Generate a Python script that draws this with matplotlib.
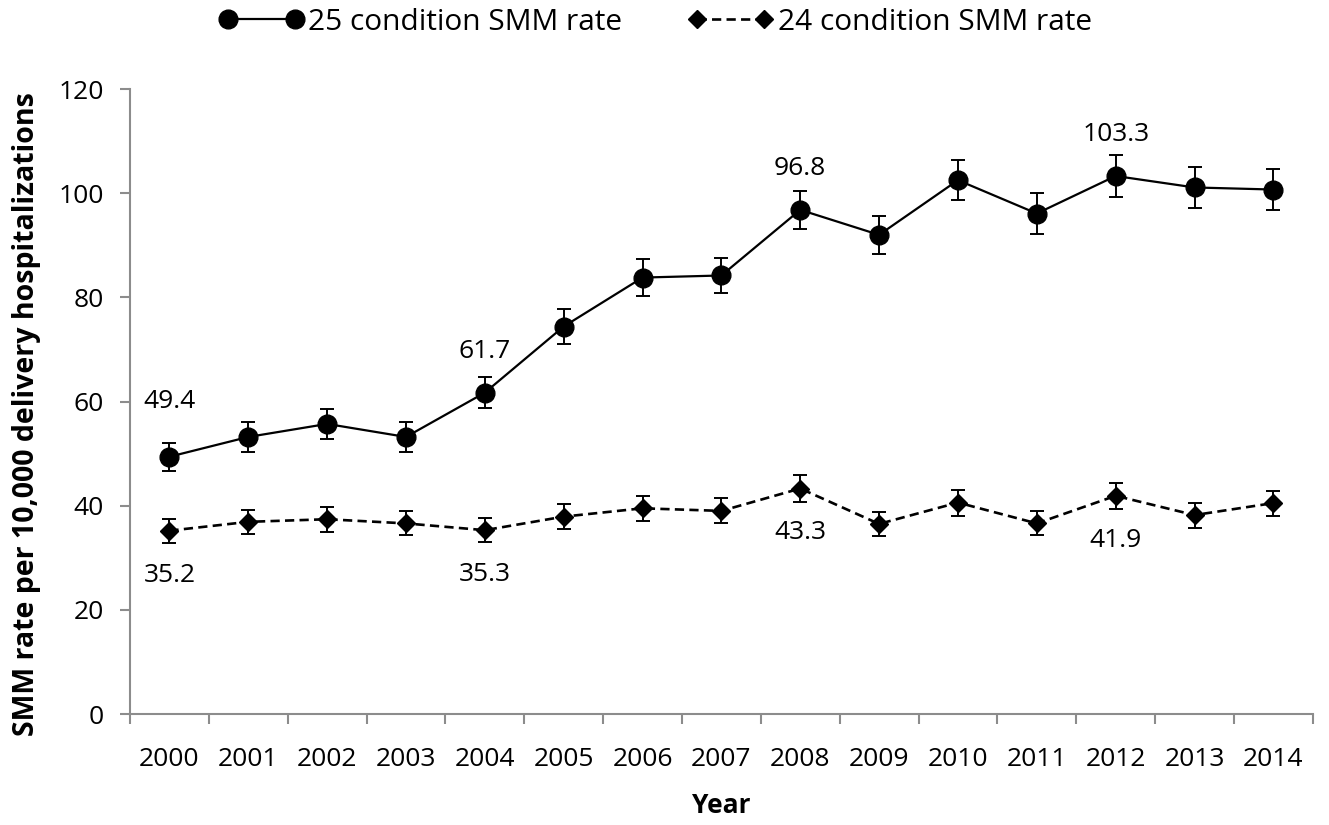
import numpy as np
import matplotlib
matplotlib.use('Agg')
import matplotlib.pyplot as plt
from matplotlib.ticker import FixedLocator, NullFormatter

plt.rcParams['font.family'] = ['Open Sans', 'DejaVu Sans']

years = ['2000', '2001', '2002', '2003', '2004', '2005', '2006', '2007',
         '2008', '2009', '2010', '2011', '2012', '2013', '2014']

# 25 condition SMM rate and 95% CI half-widths
smm25 = [49.4, 53.2, 55.7, 53.2, 61.7, 74.4, 83.8, 84.2,
         96.8, 92.0, 102.5, 96.1, 103.3, 101.1, 100.7]
err25 = [2.7, 2.8, 2.9, 2.8, 3.0, 3.3, 3.5, 3.4,
         3.7, 3.7, 3.8, 3.9, 4.0, 4.0, 4.0]

# 24 condition SMM rate
smm24 = [35.2, 36.9, 37.4, 36.6, 35.3, 37.9, 39.5, 39.0,
         43.3, 36.5, 40.6, 36.6, 41.9, 38.2, 40.5]
err24 = [2.3, 2.3, 2.4, 2.3, 2.3, 2.4, 2.4, 2.4,
         2.5, 2.3, 2.5, 2.3, 2.55, 2.4, 2.4]

labelled = [0, 4, 8, 12]

fig = plt.figure(figsize=(13.29, 8.25), dpi=100)
ax = fig.add_axes([0.0978, 0.1345, 0.890, 0.7576])

x = np.arange(len(years))
eb1 = ax.errorbar(x, smm25, yerr=err25, color='black', lw=1.6, marker='o', ms=13.5,
                  capsize=5, elinewidth=1.4, capthick=1.4, label='25 condition SMM rate')
eb2 = ax.errorbar(x, smm24, yerr=err24, color='black', lw=1.9, ls=(0, (3.5, 2)), marker='D',
                  ms=9, capsize=5, elinewidth=1.4, capthick=1.4, label='24 condition SMM rate')

# data labels
for i in labelled:
    up = 40 if i == 0 else 30
    ax.annotate(f'{smm25[i]:.1f}', (x[i], smm25[i]), xytext=(0, up), textcoords='offset points',
                ha='center', va='center', fontsize=19)
    ax.annotate(f'{smm24[i]:.1f}', (x[i], smm24[i]), xytext=(0, -32), textcoords='offset points',
                ha='center', va='center', fontsize=19)

ax.set_xlim(-0.5, len(years) - 0.5)
ax.set_ylim(0, 120)
ax.set_yticks(np.arange(0, 121, 20))
ax.set_xticks(x)
ax.set_xticklabels(years)
ax.xaxis.set_minor_locator(FixedLocator(np.arange(-0.5, len(years), 1)))
ax.xaxis.set_minor_formatter(NullFormatter())

# remove borders and ticks like excel
for s in ['top', 'right']:
    ax.spines[s].set_visible(False)
for s in ['left', 'bottom']:
    ax.spines[s].set_color('#8c8c8c')
    ax.spines[s].set_linewidth(1.5)
ax.tick_params(axis='x', which='major', length=0, pad=24, labelsize=19)
ax.tick_params(axis='x', which='minor', length=7, width=1.5, color='#8c8c8c')
ax.tick_params(axis='y', length=7, width=1.5, color='#8c8c8c', pad=12, labelsize=19)

ax.set_xlabel('Year', fontsize=19, fontweight='bold', labelpad=14)
ax.set_ylabel('SMM rate per 10,000 delivery hospitalizations', fontsize=20.5,
              fontweight='bold')
ax.yaxis.set_label_coords(-0.075, 0.48)

leg = fig.legend(handles=[eb1.lines[0], eb2.lines[0]],
                 labels=['25 condition SMM rate', '24 condition SMM rate'],
                 loc='center', bbox_to_anchor=(0.493, 0.973), ncol=2, frameon=False,
                 numpoints=2, handlelength=2.85, handletextpad=0.15, columnspacing=2.2,
                 fontsize=21.5)

fig.savefig('out.png', dpi=100)
